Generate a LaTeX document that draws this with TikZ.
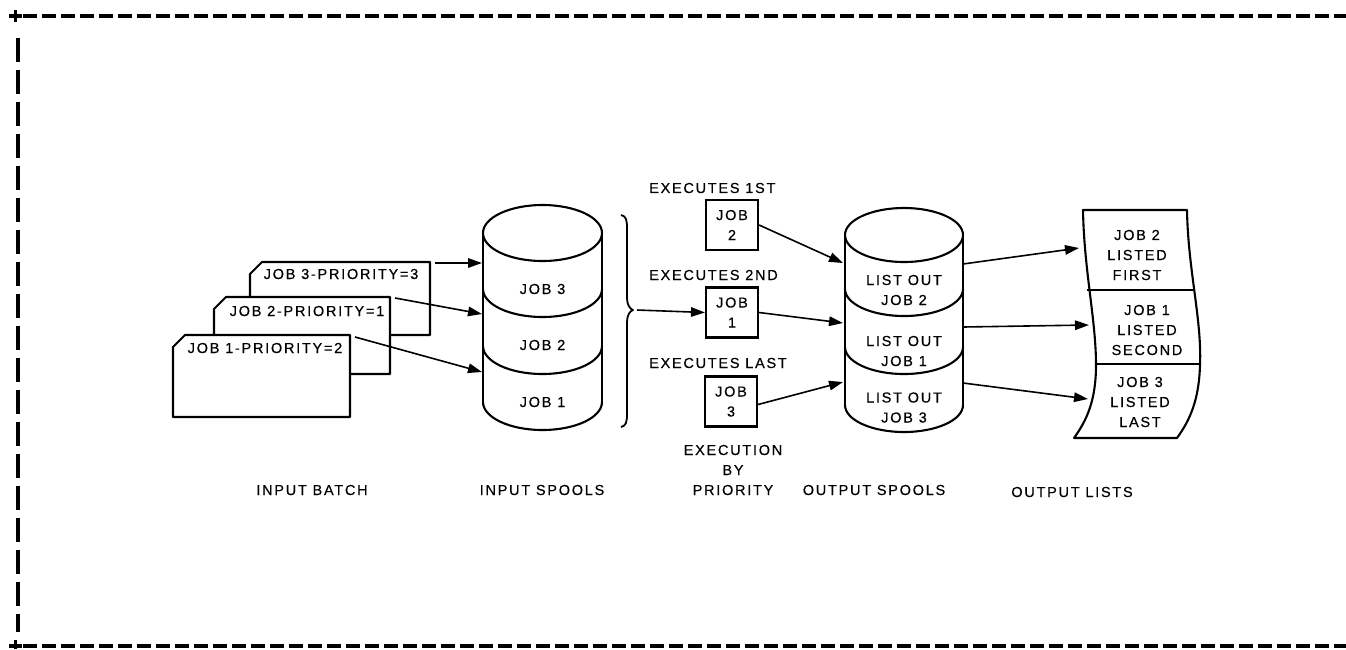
\documentclass[tikz,border=0pt]{standalone}
\usepackage{fontspec}
\setmainfont{Liberation Sans}[LetterSpace=12, FakeBold=0.4]
\usetikzlibrary{arrows.meta}

% spool: centre x, x radius, y radius, top y, band 1 y, band 2 y, bottom y
\newcommand\spool[7]{%
  \draw[shapeline] (#1,#4) ellipse[x radius=#2, y radius=#3];
  \draw[shapeline] ({#1-#2},#4) -- ({#1-#2},#7) ({#1+#2},#4) -- ({#1+#2},#7);
  \foreach \yc in {#5,#6,#7}{%
    \draw[shapeline] ({#1-#2},\yc) .. controls ({#1-#2},{\yc+0.5523*#3}) and ({#1-0.5523*#2},{\yc+#3}) .. ({#1},{\yc+#3})
      .. controls ({#1+0.5523*#2},{\yc+#3}) and ({#1+#2},{\yc+0.5523*#3}) .. ({#1+#2},\yc);
  }%
}
% punched card with clipped top-left corner
\newcommand\jobcard[4]{%
  \draw[shapeline, fill=white] (#1,{#2+12}) -- ({#1+12},#2) -- (#3,#2) -- (#3,#4) -- (#1,#4) -- cycle;
}

\tikzset{
  shapeline/.style={line width=2.1pt, line join=round},
  frameline/.style={line width=3.8pt},
  lbl/.style={font=\fontsize{14.5}{20}\selectfont, inner sep=0pt, align=center},
  jobbox/.style={lbl, draw, line width=2.1pt, minimum width=52pt, minimum height=50pt},
  flow/.style={line width=1.6pt, -{Triangle[length=14pt,width=9.5pt]}},
}

\begin{document}
\begin{tikzpicture}[x=1pt,y=-1pt]
\useasboundingbox (0,0) rectangle (1346,649);

% dashed frame
\draw[frameline, dash pattern=on 14pt off 5pt] (23,16) -- (1346,16);
\draw[frameline, dash pattern=on 14pt off 5pt] (23,646) -- (1346,646);
\draw[frameline, dash pattern=on 24pt off 8pt] (18,38) -- (18,632);
\draw[frameline] (9,16) -- (22,16) (15.5,10) -- (15.5,22);
\draw[frameline] (9,646) -- (22,646) (15.5,640) -- (15.5,649);

% input batch
\jobcard{250}{262}{430}{335}
\jobcard{214}{297}{390}{374}
\jobcard{173}{335}{350}{417}
\node[lbl] (c3) at (341,274) {JOB 3-PRIORITY=3};
\node[lbl] (c2) at (307,311) {JOB 2-PRIORITY=1};
\node[lbl] (c1) at (265,348) {JOB 1-PRIORITY=2};
\coordinate (c3out) at (435,263);
\coordinate (c2out) at (395,298);
\coordinate (c1out) at (355,337);

% input spools
\spool{542.5}{59.5}{28}{233}{289}{346}{402}
\node[lbl] (in3) at (542.5,289) {JOB 3};
\node[lbl] (in2) at (542.5,345) {JOB 2};
\node[lbl] (in1) at (542.5,402) {JOB 1};
\coordinate (in3w) at (482,263);
\coordinate (in2w) at (482,314);
\coordinate (in1w) at (482,372);

\draw[flow] (c3out) -- (in3w);
\draw[flow] (c2out) -- (in2w);
\draw[flow] (c1out) -- (in1w);

% brace gathering the spools
\draw[line width=1.8pt, line join=round] (621,215) .. controls (626,216) and (627,220) .. (627,228)
  -- (627,298) .. controls (627,305) and (630,309) .. (633,310)
  .. controls (630,311) and (627,315) .. (627,322)
  -- (627,414) .. controls (627,422) and (626,426) .. (621,427);
\coordinate (brace) at (637,310);

% execution by priority
\node[lbl, anchor=west] (e1) at (649,188) {EXECUTES 1ST};
\node[lbl, anchor=west] (e2) at (649,275) {EXECUTES 2ND};
\node[lbl, anchor=west] (e3) at (649,363) {EXECUTES LAST};
\node[jobbox] (x2) at (732,225) {JOB\\2};
\node[jobbox] (x1) at (732,312.5) {JOB\\1};
\node[jobbox] (x3) at (731,401.5) {JOB\\3};
\draw[flow] (brace) -- (x1.west);

% output spools
\spool{904}{59}{27}{235}{289}{347}{405}
\node[lbl] (o2) at (904,290) {LIST OUT\\JOB 2};
\node[lbl] (o1) at (904,351) {LIST OUT\\JOB 1};
\node[lbl] (o3) at (904,407.5) {LIST OUT\\JOB 3};
\coordinate (o2w) at (843,263);
\coordinate (o1w) at (843,323);
\coordinate (o3w) at (843,382);
\coordinate (o2e) at (963,264);
\coordinate (o1e) at (963,327);
\coordinate (o3e) at (963,383);

\draw[flow] (x2.east) -- (o2w);
\draw[flow] (x1.east) -- (o1w);
\draw[flow] ([yshift=-3pt]x3.east) -- (o3w);

% output listing strip
\draw[shapeline, fill=white] (1083,210) -- (1187,210)
  .. controls (1188,270) and (1202,320) .. (1200,365)
  .. controls (1199,400) and (1190,420) .. (1177,438)
  -- (1074,438)
  .. controls (1087,420) and (1096,400) .. (1096,365)
  .. controls (1096,320) and (1084,270) .. cycle;
\draw[shapeline] (1087,290) -- (1193,290);
\draw[shapeline] (1096,364) -- (1200,364);
\node[lbl] (l2) at (1137,255) {JOB 2\\LISTED\\FIRST};
\node[lbl] (l1) at (1147,330) {JOB 1\\LISTED\\SECOND};
\node[lbl] (l3) at (1140,402) {JOB 3\\LISTED\\LAST};
\coordinate (l2w) at (1079,248);
\coordinate (l1w) at (1089,325);
\coordinate (l3w) at (1088,399);

\draw[flow] (o2e) -- (l2w);
\draw[flow] (o1e) -- (l1w);
\draw[flow] (o3e) -- (l3w);

% captions
\node[lbl] (capA) at (312,490) {INPUT BATCH};
\node[lbl] (capB) at (542,490) {INPUT SPOOLS};
\node[lbl] (capC) at (733,470) {EXECUTION\\BY\\PRIORITY};
\node[lbl] (capD) at (874,490) {OUTPUT SPOOLS};
\node[lbl] (capE) at (1072,492) {OUTPUT LISTS};
\end{tikzpicture}
\end{document}
